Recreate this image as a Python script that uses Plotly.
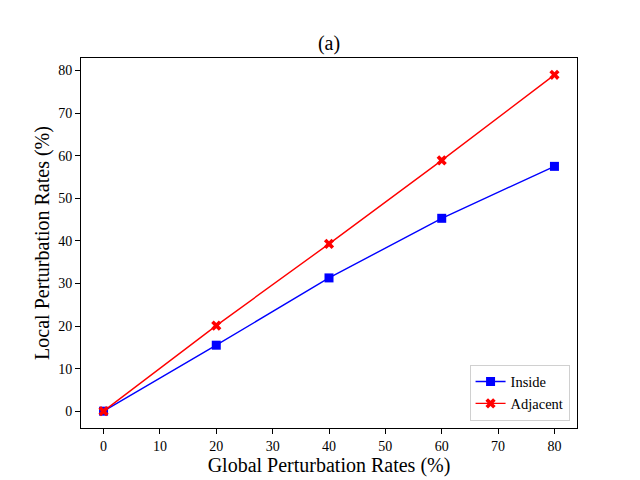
import plotly.graph_objects as go

global_rates = [0, 20, 40, 60, 80]
inside = [0, 15.5, 31.3, 45.3, 57.5]
adjacent = [0, 20.1, 39.3, 58.9, 79.0]
x_ticks = [0, 10, 20, 30, 40, 50, 60, 70, 80]
y_ticks = [0, 10, 20, 30, 40, 50, 60, 70, 80]

FONT = "Liberation Serif, Times New Roman, serif"

fig = go.Figure()
fig.add_trace(go.Scatter(
    x=global_rates, y=inside, name="Inside", mode="lines+markers",
    line=dict(color="#0000ff", width=1.4),
    marker=dict(symbol="square", size=9, color="#0000ff"),
))
fig.add_trace(go.Scatter(
    x=global_rates, y=adjacent, name="Adjacent", mode="lines+markers",
    line=dict(color="#ff0000", width=1.4),
    marker=dict(symbol="x", size=9, color="#ff0000"),
))

axis_common = dict(
    showline=True, linecolor="black", linewidth=1.1, mirror=True,
    ticks="outside", ticklen=5, tickwidth=1.1, tickcolor="black",
    showgrid=False, zeroline=False,
    tickfont=dict(family=FONT, size=14, color="black"),
)

fig.update_layout(
    width=640, height=480,
    margin=dict(l=72.7, r=71.3, t=50.3, b=60.1),
    paper_bgcolor="white", plot_bgcolor="white",
    font=dict(family=FONT, color="black"),
    title=dict(text="(a)", x=0.5, xref="paper", xanchor="center",
               y=1, yref="container", yanchor="top", pad=dict(t=28),
               font=dict(family=FONT, size=20, color="black")),
    xaxis=dict(range=[-4, 84], tickvals=x_ticks,
               title=dict(text="Global Perturbation Rates (%)",
                          font=dict(family=FONT, size=20), standoff=5),
               **axis_common),
    yaxis=dict(range=[-3.95, 82.95], tickvals=y_ticks,
               title=dict(text="Local Perturbation Rates (%)",
                          font=dict(family=FONT, size=20), standoff=3),
               **axis_common),
    legend=dict(x=0.985, y=0.02, xanchor="right", yanchor="bottom",
                bordercolor="#d0d0d0", borderwidth=1, bgcolor="white",
                font=dict(family=FONT, size=14.5, color="black"),
                tracegroupgap=0),
    showlegend=True,
)

fig.write_html("out.html")
